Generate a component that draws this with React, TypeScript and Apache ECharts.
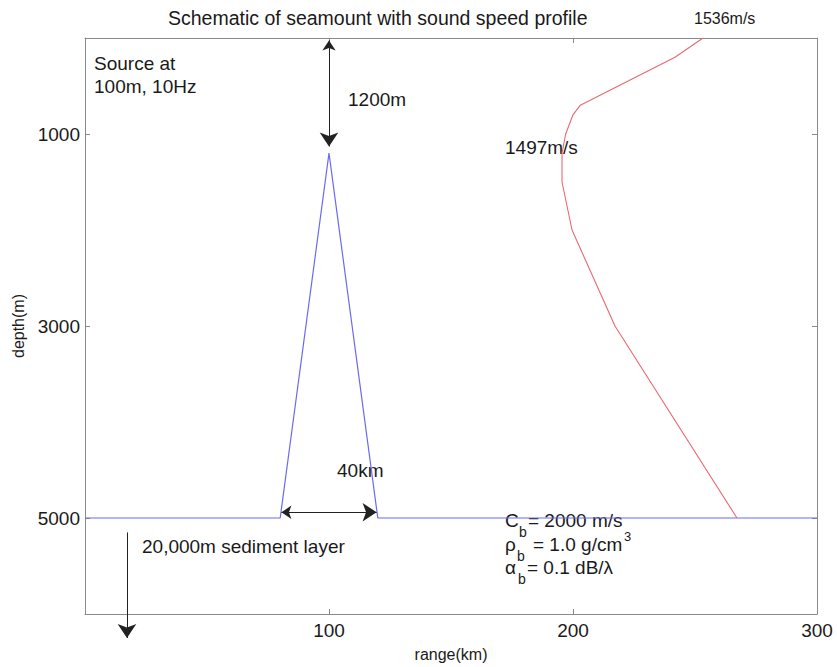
import React, { useEffect, useRef } from "react";
import * as echarts from "echarts";

const rangeTicks = [100, 200, 300];
const depthTicks = [1000, 3000, 5000];
const seamountRange = [0, 80, 100, 120, 300];
const seamountDepth = [5000, 5000, 1200, 5000, 5000];
const profileRange = [253.3, 241.8, 203, 200, 197, 195.5, 195.5, 199.6, 217.2, 267.2];
const profileDepth = [0, 200, 700, 800, 1000, 1200, 1500, 2000, 3000, 5000];
const arrowHeight = [[100, 25], [100, 1130]];
const arrowWidth = [[80.5, 4940], [119.5, 4940]];
const arrowSediment = [[17.2, 5150], [17.2, 6250]];

const FONT = "'Liberation Sans', Arial, Helvetica, sans-serif";
const AXIS = "#8a8a8a";
const TXT = "#1a1a1a";

function txt(text: string, x: number, y: number, size = 19, extra: any = {}) {
  return {
    type: "text",
    x,
    y,
    style: {
      text,
      fill: TXT,
      font: `${size}px ${FONT}`,
      verticalAlign: "middle",
      align: "left",
      ...extra,
    },
    silent: true,
  };
}

export default function App() {
  const ref = useRef<HTMLDivElement>(null);
  useEffect(() => {
    if (!ref.current) return;
    const chart = echarts.init(ref.current, null, { renderer: "svg" });
    const axisCommon = {
      type: "value",
      axisLine: { show: true, onZero: false, lineStyle: { color: AXIS, width: 1 } },
      splitLine: { show: false },
    };
    chart.setOption({
      animation: false,
      backgroundColor: "#ffffff",
      grid: { left: 85, top: 38, right: 20, bottom: 53, containLabel: false, outerBoundsMode: "none" },
      xAxis: [
        {
          ...axisCommon,
          min: 0,
          max: 300,
          position: "bottom",
          name: "range(km)",
          nameLocation: "middle",
          nameGap: 32,
          nameTextStyle: { fontFamily: FONT, fontSize: 16, color: TXT },
          axisTick: { show: true, inside: true, length: 5, customValues: rangeTicks, lineStyle: { color: AXIS } },
          axisLabel: {
            show: true,
            customValues: rangeTicks,
            margin: 7,
            fontFamily: FONT,
            fontSize: 19,
            color: TXT,
            formatter: (v: number) => String(v),
          },
        },
        {
          ...axisCommon,
          min: 0,
          max: 300,
          position: "top",
          axisTick: { show: true, inside: true, length: 5, customValues: rangeTicks, lineStyle: { color: AXIS } },
          axisLabel: { show: false },
        },
      ],
      yAxis: [
        {
          ...axisCommon,
          min: 0,
          max: 6000,
          inverse: true,
          position: "left",
          name: "depth(m)",
          nameLocation: "middle",
          nameGap: 42,
          nameTextStyle: { fontFamily: FONT, fontSize: 16, color: TXT },
          axisTick: { show: true, inside: true, length: 5, customValues: depthTicks, lineStyle: { color: AXIS } },
          axisLabel: {
            show: true,
            customValues: depthTicks,
            margin: 5,
            fontFamily: FONT,
            fontSize: 19,
            color: TXT,
            formatter: (v: number) => String(v),
          },
        },
        {
          ...axisCommon,
          min: 0,
          max: 6000,
          inverse: true,
          position: "right",
          axisTick: { show: true, inside: true, length: 5, customValues: depthTicks, lineStyle: { color: AXIS } },
          axisLabel: { show: false },
        },
      ],
      series: [
        {
          type: "line",
          data: seamountRange.map((r, i) => [r, seamountDepth[i]]),
          showSymbol: false,
          symbol: "none",
          lineStyle: { color: "#6a6af0", width: 1.2 },
          z: 3,
        },
        {
          type: "line",
          data: profileRange.map((r, i) => [r, profileDepth[i]]),
          showSymbol: false,
          symbol: "none",
          lineStyle: { color: "#ea6874", width: 1.1 },
          z: 3,
        },
        {
          type: "lines",
          coordinateSystem: "cartesian2d",
          clip: false,
          symbol: ["arrow", "arrow"],
          symbolSize: [10, 14],
          lineStyle: { color: "#222222", width: 1, opacity: 1, curveness: 0 },
          data: [{ coords: arrowHeight }, { coords: arrowWidth }],
          z: 4,
        },
        {
          type: "lines",
          coordinateSystem: "cartesian2d",
          clip: false,
          symbol: ["none", "arrow"],
          symbolSize: [10, 14],
          lineStyle: { color: "#222222", width: 1, opacity: 1, curveness: 0 },
          data: [{ coords: arrowSediment }],
          z: 4,
        },
      ],
      graphic: [
        txt("Schematic of seamount with sound speed profile", 168, 18, 19.5),
        txt("1536m/s", 694, 18, 16),
        txt("Source at", 94, 63),
        txt("100m, 10Hz", 94, 86),
        txt("1200m", 348, 99),
        txt("1497m/s", 505, 147),
        txt("40km", 337, 470),
        txt("20,000m sediment layer", 142, 546),
        txt("C", 505, 520),
        txt("b", 519, 532, 14),
        txt("= 2000 m/s", 528, 520),
        txt("\u03c1", 505, 544),
        txt("b", 517, 556, 14),
        txt("= 1.0 g/cm", 533, 544),
        txt("3", 624, 536, 13),
        txt("\u03b1", 505, 567),
        txt("b", 518, 579, 14),
        txt("= 0.1 dB/\u03bb", 527, 567),
      ],
    });
    return () => chart.dispose();
  }, []);
  return (
    <div
      ref={ref}
      style={{ position: "fixed", left: 0, top: 0, width: 837, height: 667, background: "#fff" }}
    />
  );
}
